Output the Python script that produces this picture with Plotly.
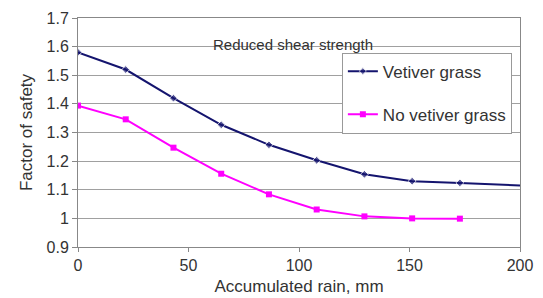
import plotly.graph_objects as go

rain_vetiver = [0, 21.6, 43.2, 64.8, 86.4, 108, 129.6, 151.2, 172.8, 200]
fs_vetiver = [1.580, 1.520, 1.420, 1.327, 1.257, 1.203, 1.154, 1.130, 1.124, 1.115]
marker_vetiver = [6, 6, 6, 6, 6, 6, 6, 6, 6, 0]

rain_no = [0, 21.6, 43.2, 64.8, 86.4, 108, 129.6, 151.2, 172.8]
fs_no = [1.394, 1.346, 1.247, 1.156, 1.084, 1.031, 1.007, 1.000, 0.999]

x_ticks = [0, 50, 100, 150, 200]
y_ticks = [0.9, 1, 1.1, 1.2, 1.3, 1.4, 1.5, 1.6, 1.7]
y_ticklabels = ["0.9", "1", "1.1", "1.2", "1.3", "1.4", "1.5", "1.6", "1.7"]

font = "Liberation Sans, Arial, sans-serif"

fig = go.Figure()
fig.add_trace(go.Scatter(
    x=rain_vetiver, y=fs_vetiver, mode="lines+markers", name="Vetiver grass",
    line=dict(color="#14146e", width=2),
    marker=dict(symbol="diamond", size=marker_vetiver, color="#14146e"),
    legendgroup="a",
))
fig.add_trace(go.Scatter(
    x=rain_no, y=fs_no, mode="lines+markers", name="No vetiver grass",
    line=dict(color="#ff00ff", width=2),
    marker=dict(symbol="square", size=6, color="#ff00ff"),
    legendgroup="b",
))

# page body has an 8px default margin, so the figure is sized to fit the window
fig.update_layout(
    width=535, height=290,
    margin=dict(l=70, r=23, t=10, b=51),
    paper_bgcolor="white", plot_bgcolor="white",
    font=dict(family=font, size=16, color="#333333"),
    showlegend=True,
    legend=dict(
        x=0.597, y=0.849, xanchor="left", yanchor="top",
        bgcolor="white", bordercolor="#999999", borderwidth=1,
        font=dict(size=17, color="#333333"),
        traceorder="grouped", tracegroupgap=18,
        itemwidth=30,
    ),
    xaxis=dict(
        range=[0, 200], tickvals=x_ticks, showgrid=False,
        showline=True, linecolor="#888888", linewidth=1, mirror=True,
        ticks="outside", ticklen=4, tickcolor="#888888",
        title=dict(text="Accumulated rain, mm", font=dict(size=17), standoff=6),
        tickfont=dict(size=16), zeroline=False, automargin=False,
    ),
    yaxis=dict(
        range=[0.9, 1.7], tickvals=y_ticks, ticktext=y_ticklabels,
        showgrid=True, gridcolor="#a0a0a0", gridwidth=1,
        showline=True, linecolor="#888888", linewidth=1, mirror=True,
        ticks="outside", ticklen=5, tickcolor="#888888",
        title=dict(text="Factor of safety", font=dict(size=17), standoff=9),
        tickfont=dict(size=16), zeroline=False, automargin=False,
    ),
    annotations=[dict(
        text="Reduced shear strength", x=0.487, y=0.932,
        xref="paper", yref="paper", showarrow=False,
        font=dict(size=15, color="#333333"),
    )],
)

fig.write_html("out.html")
